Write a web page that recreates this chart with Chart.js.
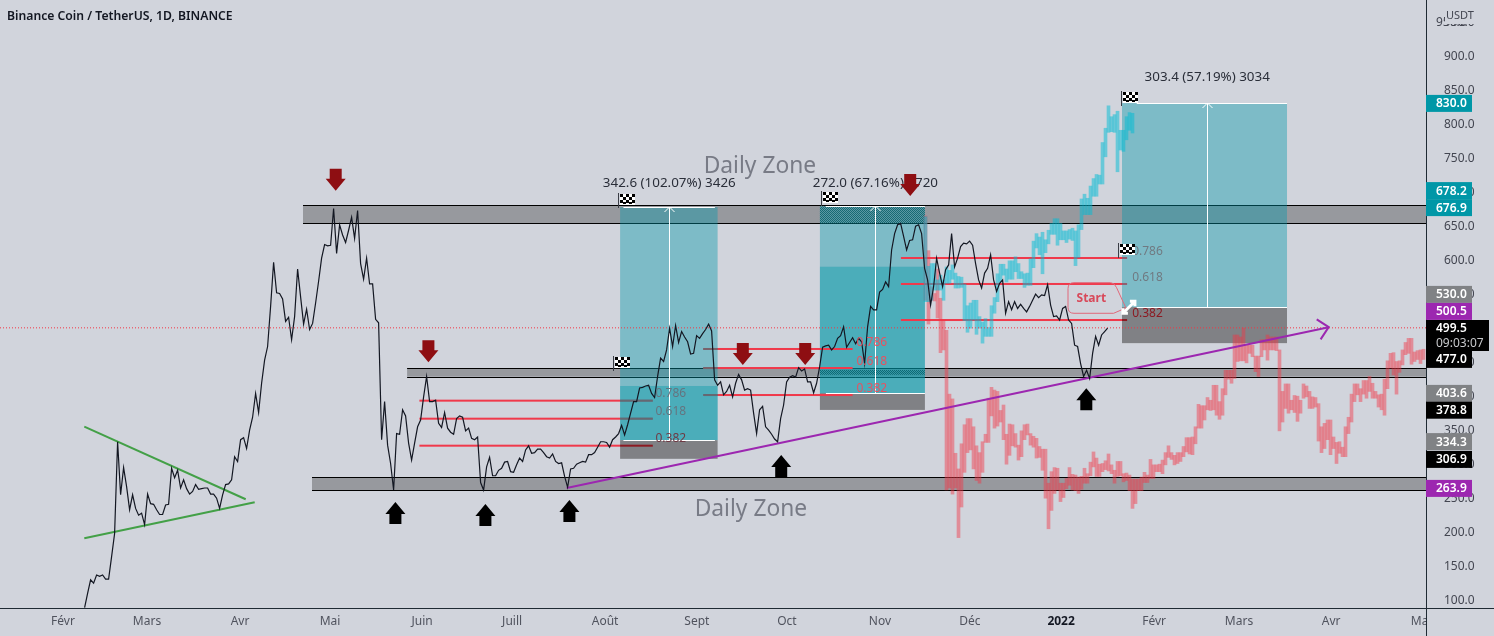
<!DOCTYPE html>
<html>
<head>
<meta charset="utf-8">
<title>Binance Coin / TetherUS</title>
<style>
  html, body { margin: 0; padding: 0; background: #d1d4dc; overflow: hidden; }
  canvas { display: block; }
</style>
<script src="https://cdn.jsdelivr.net/npm/chart.js@4/dist/chart.umd.js"></script>
</head>
<body>
<canvas id="chart" width="1494" height="636"></canvas>
<script>
// x unit = one daily bar (3px), 0 = first "Févr" label
const monthTicks = [0, 28, 59, 89, 119.7, 149.7, 180.7, 211.3, 241.3, 272.3, 302.3, 332.7, 363.7, 392, 422.7, 452.7];
const monthLabels = ['Févr', 'Mars', 'Avr', 'Mai', 'Juin', 'Juill', 'Août', 'Sept', 'Oct', 'Nov', 'Déc', '2022', 'Févr', 'Mars', 'Avr', 'Mai'];
const priceTicks = [100, 150, 200, 250, 300, 350, 400, 450, 500, 550, 600, 650, 700, 750, 800, 850, 900, 950];

const blackFirstBar = 7.2;
const blackPrices = [
  88, 109, 129, 124, 136, 134, 136, 130, 130, 163, 197, 332, 254, 294, 266, 232, 254, 234, 224, 227,
  210, 255, 241, 240, 232, 225, 225, 239, 240, 293, 279, 290, 264, 276, 263, 255, 259, 269, 262, 263,
  264, 264, 255, 255, 249, 234, 254, 269, 270, 276, 310, 303, 335, 338, 322, 349, 368, 403, 375, 418,
  452, 472, 531, 596, 551, 550, 542, 509, 515, 482, 516, 586, 545, 505, 527, 497, 506, 536, 568,
  602, 622, 620, 621, 675, 609, 651, 636, 625, 643, 662, 631, 672, 594, 571, 602, 564, 564, 512, 507,
  335, 391, 327, 300, 261, 344, 343, 379, 370, 330, 305, 330, 354, 364, 398, 428, 391, 391, 393, 359,
  353, 375, 352, 346, 343, 366, 370, 368, 348, 352, 337, 335, 339, 272, 261, 295, 309, 282, 282, 290,
  293, 302, 303, 288, 287, 298, 308, 303, 320, 326, 315, 316, 321, 321, 316, 310, 308, 314, 303, 300,
  301, 281, 265, 292, 293, 299, 301, 303, 302, 313, 313, 316, 324, 332, 332, 331, 324, 335, 339, 344,
  356, 342, 357, 374, 391, 391, 411, 412, 414, 415, 403, 397, 428, 455, 450, 467, 499, 472, 503, 478,
  494, 486, 479, 461, 462, 488, 484, 491, 497, 505, 495, 423, 415, 420, 401, 406, 415, 398, 418, 431,
  423, 408, 410, 408, 374, 344, 379, 384, 354, 349, 343, 336, 332, 366, 386, 420, 427, 429, 427, 441,
  436, 439, 420, 420, 404, 418, 442, 471, 473, 474, 467, 472, 484, 488, 501, 471, 478, 485, 476, 484,
  479, 447, 501, 531, 526, 526, 552, 556, 567, 560, 614, 638, 651, 653, 634, 614, 628, 629, 649, 651,
  638, 587, 570, 533, 560, 602, 580, 560, 585, 592, 638, 589, 602, 619, 624, 623, 627, 621, 594, 570,
  558, 580, 587, 607, 570, 553, 565, 570, 521, 538, 526, 538, 528, 534, 528, 523, 531, 540, 549, 544,
  548, 547, 563, 533, 516, 517, 511, 528, 531, 511, 506, 474, 472, 447, 428, 437, 425, 462, 487, 474,
  489, 494, 499
];

const barsFirstBar = 287.5;
const cyanHigh = [
  663, 590, 594, 594, 570, 577, 570, 589, 584, 592, 580, 575, 574, 564, 532, 536, 540, 540, 516, 508,
  513, 500, 532, 544, 579, 593, 593, 586, 598, 598, 604, 594, 582, 579, 580, 601, 627, 638, 633, 640,
  629, 643, 653, 660, 660, 653, 642, 642, 644, 646, 642, 651, 689, 696, 690, 708, 719, 725, 724, 772,
  793, 826, 810, 813, 818, 790, 790, 810, 816, 815
];
const cyanLow = [
  538, 538, 540, 555, 555, 555, 540, 565, 565, 571, 558, 558, 559, 510, 493, 499, 511, 490, 499, 477,
  487, 487, 487, 521, 538, 567, 577, 567, 571, 571, 582, 572, 572, 559, 562, 562, 588, 617, 607, 579,
  610, 623, 637, 637, 621, 629, 629, 625, 630, 628, 591, 603, 644, 666, 666, 666, 693, 693, 711, 711,
  751, 787, 788, 787, 729, 761, 759, 776, 790, 786
];

const redHigh = [
  664, 613, 560, 550, 586, 543, 511, 496, 402, 395, 315, 292, 329, 357, 366, 366, 354, 326, 316, 332,
  343, 396, 412, 408, 406, 378, 386, 343, 358, 357, 344, 327, 348, 357, 358, 344, 340, 337, 325, 321,
  321, 271, 288, 294, 293, 271, 271, 278, 294, 284, 283, 280, 281, 293, 285, 302, 317, 308, 299, 300,
  304, 314, 298, 290, 303, 303, 285, 286, 283, 277, 277, 277, 280, 287, 283, 306, 298, 298, 299, 305,
  316, 326, 316, 312, 316, 316, 325, 338, 338, 339, 354, 387, 385, 385, 397, 393, 415, 415, 391, 410,
  437, 437, 437, 489, 489, 486, 499, 474, 474, 474, 458, 458, 482, 482, 489, 486, 486, 486, 467, 406,
  417, 417, 393, 400, 399, 393, 417, 414, 406, 398, 397, 388, 354, 359, 364, 364, 339, 331, 332, 324,
  354, 368, 402, 417, 417, 410, 422, 422, 428, 418, 406, 401, 402, 424, 451, 462, 463, 450, 451, 467,
  478, 484, 484, 464, 466, 467, 468
];
const redLow = [
  540, 505, 540, 539, 514, 463, 467, 261, 264, 255, 264, 191, 236, 287, 316, 320, 292, 275, 271, 287,
  331, 331, 370, 352, 355, 361, 335, 299, 312, 326, 324, 305, 310, 335, 342, 327, 324, 308, 309, 290,
  249, 204, 231, 256, 261, 244, 250, 263, 268, 261, 260, 256, 262, 271, 271, 282, 295, 281, 281, 288,
  291, 289, 285, 271, 281, 282, 273, 275, 260, 234, 241, 260, 260, 272, 272, 278, 278, 288, 288, 285,
  298, 309, 306, 298, 300, 303, 310, 317, 314, 313, 329, 352, 352, 364, 379, 378, 379, 371, 365, 371,
  401, 424, 418, 425, 450, 451, 451, 448, 462, 457, 435, 428, 457, 467, 452, 467, 467, 466, 348, 361,
  381, 374, 379, 375, 362, 374, 396, 398, 381, 381, 383, 333, 316, 322, 335, 313, 322, 300, 315, 310,
  310, 344, 361, 391, 401, 391, 402, 396, 406, 396, 396, 383, 379, 371, 410, 440, 430, 402, 434, 445,
  460, 462, 446, 450, 453, 447, 453
];

// last price and the drawing tools, in bar / price units
const lastPrice = 499.5;
const trendPurple = [[167.9, 263.9], [421.9, 500.5]];
const trendHead = [[417.9, 512], [421.9, 500.5], [419.2, 482.6]];
const greenTop = [[7.1, 354.1], [60.9, 247.4]];
const greenBottom = [[7.1, 190], [63.9, 243]];

const zones = [
  { from: 80, top: 679.7, bottom: 653.2 },
  { from: 114.7, top: 440, bottom: 427.6 },
  { from: 83, top: 279.7, bottom: 260.6 }
];
const boxes = [
  { from: 185.7, to: 218.2, mid: 202.1, lineFrom: 186.8, lineTo: 217.3, top: 676.9, entry: 334.3, stop: 306.9, second: 414, label: '342.6 (102.07%) 3426', labelPrice: 714 },
  { from: 252.3, to: 287.3, mid: 270.8, lineFrom: 254.3, lineTo: 287.3, top: 678.2, entry: 403.6, stop: 378.8, second: 589.4, label: '272.0 (67.16%) 2720', labelPrice: 714 },
  { from: 353, to: 408, mid: 381.4, lineFrom: 357.9, lineTo: 408, top: 830, entry: 530, stop: 477, label: '303.4 (57.19%) 3034', labelPrice: 870 }
];
const fibLines = [
  { from: 279.3, to: 354.7, prices: [602.2, 564, 511] },
  { from: 213.4, to: 263.2, prices: [468.4, 440.4, 400.7] },
  { from: 118.8, to: 196.6, prices: [392.4, 365.9, 326.2] }
];
const fibNames = ['0.786', '0.618', '0.382'];
const fibLabels = [
  { bar: 202.6, prices: [403.7, 377.2, 337.5], colors: ['#64747f', '#64747f', '#6d3a44'] },
  { bar: 269.6, prices: [479.1, 451.2, 412], colors: ['#e8505f', '#e8505f', '#e8505f'] },
  { bar: 361.5, prices: [612.5, 574.3, 521.3], colors: ['#6f7a82', '#6f7a82', '#8c1a22'] }
];
const downArrows = [[90.9, 701.2], [121.8, 448.8], [226.6, 444.9], [247.4, 444.9], [282.4, 693.4]];
const upArrows = [[110.8, 243.4], [140.8, 240.4], [168.8, 246.3], [239.4, 312.5], [341.1, 410.6]];
const flags = [[185, 677], [183.2, 438], [252.8, 680], [352.6, 827], [351.5, 603.5]];

const priceTags = [
  { text: '830.0', color: '#0097a7', y: 103.4 },
  { text: '678.2', color: '#0097a7', y: 190.6 },
  { text: '676.9', color: '#0097a7', y: 207.6 },
  { text: '530.0', color: '#808285', y: 294.4 },
  { text: '500.5', color: '#9c27b0', y: 311.4 },
  { text: '477.0', color: '#000000', y: 359.4 },
  { text: '403.6', color: '#808285', y: 393.4 },
  { text: '378.8', color: '#000000', y: 410.2 },
  { text: '334.3', color: '#808285', y: 441.6 },
  { text: '306.9', color: '#000000', y: 459.4 },
  { text: '263.9', color: '#9c27b0', y: 488.4 }
];

const BG = '#d1d4dc';
const TEAL = 'rgba(0,151,167,0.4)';
const RED = '#f0394b';
const FONT = '"Noto Sans"';

Chart.defaults.font.family = FONT;

function toPoints(pairs) {
  return pairs.map(p => ({ x: p[0], y: p[1] }));
}

function lineSet(points, color, width, order) {
  return { type: 'line', data: points, borderColor: color, borderWidth: width, pointRadius: 0, tension: 0, order: order };
}

function blockArrow(ctx, x, tip, dir, color) {
  const base = tip - dir * 12;
  const end = tip - dir * 22;
  ctx.fillStyle = color;
  ctx.beginPath();
  ctx.moveTo(x, tip);
  ctx.lineTo(x - 10, base);
  ctx.lineTo(x - 6, base);
  ctx.lineTo(x - 6, end);
  ctx.lineTo(x + 6, end);
  ctx.lineTo(x + 6, base);
  ctx.lineTo(x + 10, base);
  ctx.closePath();
  ctx.fill();
}

function drawFlag(ctx, x, y) {
  ctx.fillStyle = '#3a3d45';
  ctx.fillRect(x, y - 14, 1, 15);
  ctx.fillStyle = '#ffffff';
  ctx.fillRect(x + 2, y - 13, 15, 11);
  ctx.fillStyle = '#000000';
  for (let i = 0; i < 5; i++) {
    for (let j = 0; j < 4; j++) {
      if ((i + j) % 2 === 0) ctx.fillRect(x + 2 + i * 3, y - 13 + j * 3 - (j === 3 ? 1 : 0), 3, j === 3 ? 2 : 3);
    }
  }
}

function ditherPattern(ctx) {
  const c = document.createElement('canvas');
  c.width = 2;
  c.height = 2;
  const p = c.getContext('2d');
  p.fillStyle = 'rgba(0,90,100,0.75)';
  p.fillRect(0, 0, 1, 1);
  p.fillRect(1, 1, 1, 1);
  return ctx.createPattern(c, 'repeat');
}

const overlays = {
  id: 'overlays',
  beforeDatasetsDraw(chart) {
    const { ctx, chartArea, scales: { x, y } } = chart;
    const px = v => x.getPixelForValue(v);
    const py = v => y.getPixelForValue(v);

    // daily zones
    zones.forEach(z => {
      ctx.fillStyle = 'rgba(0,0,0,0.28)';
      ctx.fillRect(px(z.from), py(z.top), chartArea.right - px(z.from), py(z.bottom) - py(z.top));
      ctx.fillStyle = '#000000';
      ctx.fillRect(px(z.from), Math.round(py(z.top)), chartArea.right - px(z.from), 1);
      ctx.fillRect(px(z.from), Math.round(py(z.bottom)), chartArea.right - px(z.from), 1);
    });

    const fillBox = (b, color) => {
      ctx.fillStyle = color;
      ctx.fillRect(px(b.from), py(b.top), px(b.to) - px(b.from), py(b.entry) - py(b.top));
      if (b.second) ctx.fillRect(px(b.from), py(b.second), px(b.to) - px(b.from), py(b.entry) - py(b.second));
      ctx.fillStyle = '#808185';
      ctx.fillRect(px(b.from), py(b.entry), px(b.to) - px(b.from), py(b.stop) - py(b.entry));
    };

    fillBox(boxes[1], TEAL);
    const dither = ditherPattern(ctx);
    ctx.fillStyle = dither;
    ctx.fillRect(px(boxes[1].from), py(678.2), px(boxes[1].to) - px(boxes[1].from), py(653.2) - py(678.2));
    ctx.fillRect(px(boxes[1].from), py(437.5), px(boxes[1].to) - px(boxes[1].from), py(430.5) - py(437.5));

    // fib lines run under the first and last box
    fibLines.forEach(f => {
      f.prices.forEach(p => {
        ctx.fillStyle = RED;
        ctx.fillRect(px(f.from), py(p) - 1, px(f.to) - px(f.from), 2);
      });
    });

    fillBox(boxes[0], TEAL);
    fillBox(boxes[2], TEAL);

    // dark remains of the lowest fib lines where the stop box covers them
    ctx.fillStyle = '#8c1a22';
    ctx.fillRect(px(boxes[0].from), py(fibLines[2].prices[2]) - 1, px(fibLines[2].to) - px(boxes[0].from), 2);
    ctx.fillRect(px(boxes[2].from), py(fibLines[0].prices[2]) - 1, px(fibLines[0].to) - px(boxes[2].from), 2);

    // grey remains of the fib lines inside the first box
    ctx.fillStyle = 'rgba(110,100,105,0.7)';
    fibLines[2].prices.slice(0, 2).forEach(p => {
      ctx.fillRect(px(boxes[0].from), py(p) - 1, px(fibLines[2].to) - px(boxes[0].from), 2);
    });
    fibLines[1].prices.forEach(p => {
      ctx.fillRect(px(fibLines[1].from), py(p) - 1, px(boxes[0].to) - px(fibLines[1].from), 2);
    });

    // white measure lines
    ctx.fillStyle = '#ffffff';
    ctx.strokeStyle = '#ffffff';
    ctx.lineWidth = 1;
    boxes.forEach(b => {
      ctx.fillRect(px(b.lineFrom), Math.round(py(b.top)), px(b.lineTo) - px(b.lineFrom), 1);
      ctx.fillRect(px(b.lineFrom), Math.round(py(b.entry)), px(b.lineTo) - px(b.lineFrom), 1);
      ctx.fillRect(Math.round(px(b.mid)), py(b.top), 1, py(b.entry) - py(b.top));
      const mx = Math.round(px(b.mid)) + 0.5;
      const ty = Math.round(py(b.top));
      ctx.beginPath();
      ctx.moveTo(mx - 5, ty + 5);
      ctx.lineTo(mx, ty);
      ctx.lineTo(mx + 5, ty + 5);
      ctx.stroke();
    });
  },
  afterDatasetsDraw(chart) {
    const { ctx, scales: { x, y } } = chart;
    const px = v => x.getPixelForValue(v);
    const py = v => y.getPixelForValue(v);

    ctx.textBaseline = 'middle';
    ctx.textAlign = 'center';

    // box captions
    ctx.font = '13.4px ' + FONT;
    ctx.fillStyle = '#2a2e39';
    boxes.forEach(b => ctx.fillText(b.label, px(b.mid), py(b.labelPrice) + 1));

    // fib numbers
    ctx.font = '12px ' + FONT;
    fibLabels.forEach(f => {
      f.prices.forEach((p, i) => {
        ctx.fillStyle = f.colors[i];
        ctx.fillText(fibNames[i], px(f.bar), py(p) + 1);
      });
    });

    // zone titles
    ctx.font = '22.8px ' + FONT;
    ctx.fillStyle = '#787b86';
    ctx.fillText('Daily Zone', px(232.3), py(740.4) + 2);
    ctx.fillText('Daily Zone', px(229.3), py(234.6) + 2);

    downArrows.forEach(a => blockArrow(ctx, px(a[0]), py(a[1]), 1, '#8e0e12'));
    upArrows.forEach(a => blockArrow(ctx, px(a[0]), py(a[1]), -1, '#000000'));
    flags.forEach(f => drawFlag(ctx, Math.round(px(f[0])), Math.round(py(f[1]))));

    // Start callout
    const left = px(335), right = px(351.2), top = py(565.9), bottom = py(520.9);
    ctx.strokeStyle = '#e0687a';
    ctx.lineWidth = 1;
    ctx.beginPath();
    ctx.moveTo(left + 6, top);
    ctx.lineTo(right - 6, top);
    ctx.quadraticCurveTo(right - 2, top, right, top + 5);
    ctx.lineTo(px(354.3), py(528.7));
    ctx.lineTo(right - 3, bottom);
    ctx.lineTo(left + 6, bottom);
    ctx.quadraticCurveTo(left, bottom, left, bottom - 6);
    ctx.lineTo(left, top + 6);
    ctx.quadraticCurveTo(left, top, left + 6, top);
    ctx.stroke();
    ctx.font = 'bold 12px ' + FONT;
    ctx.fillStyle = '#d8495a';
    ctx.fillText('Start', (left + right) / 2 - 1, (top + bottom) / 2 + 1);

    // white handle of the long position tool
    const hx = px(355.3), hy = py(529.8);
    ctx.strokeStyle = '#ffffff';
    ctx.lineWidth = 3;
    ctx.beginPath();
    ctx.moveTo(hx - 6, hy + 6);
    ctx.lineTo(hx + 6, hy - 6);
    ctx.moveTo(hx + 1, hy - 6);
    ctx.lineTo(hx + 6, hy - 6);
    ctx.lineTo(hx + 6, hy - 1);
    ctx.moveTo(hx - 6, hy + 1);
    ctx.lineTo(hx - 6, hy + 6);
    ctx.lineTo(hx - 1, hy + 6);
    ctx.stroke();
  },
  afterDraw(chart) {
    const { ctx, chartArea, scales: { y } } = chart;
    const { right, bottom } = chartArea;

    // hide what spills into the price axis corner
    ctx.fillStyle = BG;
    ctx.fillRect(right, bottom, chart.width - right, chart.height - bottom);

    ctx.fillStyle = '#1f2a33';
    ctx.fillRect(Math.round(right), 0, 1, chart.height);
    ctx.fillRect(0, Math.round(bottom), chart.width, 1);

    // title
    ctx.textAlign = 'left';
    ctx.textBaseline = 'middle';
    ctx.font = '600 12.2px ' + FONT;
    ctx.fillStyle = '#131722';
    ctx.fillText('Binance Coin / TetherUS, 1D, BINANCE', 7, 17);

    // top tick sits half under the currency label
    const topTick = priceTicks[priceTicks.length - 1];
    ctx.font = '12px ' + FONT;
    ctx.fillStyle = '#434651';
    ctx.fillText(topTick.toFixed(1), 1436, y.getPixelForValue(topTick) + 1);
    ctx.fillStyle = BG;
    ctx.fillRect(1445, 0, 40, 24);
    ctx.font = '11px ' + FONT;
    ctx.fillStyle = '#434651';
    ctx.fillText('USDT', 1446, 16);

    // price tags
    ctx.font = '600 12px ' + FONT;
    priceTags.forEach(t => {
      ctx.fillStyle = t.color;
      ctx.fillRect(right, t.y - 8.5, 46, 17);
      ctx.fillStyle = '#ffffff';
      ctx.fillText(t.text, 1436, t.y + 0.5);
    });
    ctx.fillStyle = '#000000';
    ctx.fillRect(right, 320, 63, 31);
    ctx.fillStyle = '#ffffff';
    ctx.fillText(lastPrice.toFixed(1), 1436, 329);
    ctx.font = '12px ' + FONT;
    ctx.fillStyle = '#c8c9cc';
    ctx.fillText('09:03:07', 1436, 343.5);
  }
};

new Chart(document.getElementById('chart'), {
  type: 'bar',
  data: {
    datasets: [
      lineSet(blackPrices.map((v, i) => ({ x: blackFirstBar + i, y: v })), '#131722', 1.2, 1),
      lineSet(toPoints(trendPurple), '#9c27b0', 2, 2),
      lineSet(toPoints(trendHead), '#9c27b0', 2, 2),
      lineSet(toPoints(greenTop), '#43a047', 2, 3),
      lineSet(toPoints(greenBottom), '#43a047', 2, 3),
      Object.assign(lineSet([{ x: -21, y: lastPrice }, { x: 454.33, y: lastPrice }], '#f23645', 1, 4), { borderDash: [1, 2] }),
      {
        data: cyanHigh.map((v, i) => ({ x: barsFirstBar + i, y: [cyanLow[i], v] })),
        backgroundColor: 'rgba(0,188,212,0.5)',
        barThickness: 3,
        grouped: false,
        order: 5
      },
      {
        data: redHigh.map((v, i) => ({ x: barsFirstBar + i, y: [redLow[i], v] })),
        backgroundColor: 'rgba(242,54,69,0.45)',
        barThickness: 3,
        grouped: false,
        order: 6
      }
    ]
  },
  options: {
    responsive: false,
    animation: false,
    layout: { padding: 0 },
    plugins: { legend: { display: false }, tooltip: { enabled: false } },
    scales: {
      x: {
        type: 'linear',
        offset: false,
        min: -21,
        max: 454.33,
        grid: { display: false },
        border: { display: false },
        ticks: {
          autoSkip: false,
          maxRotation: 0,
          padding: -2,
          color: ctx => monthLabels[ctx.index] === '2022' ? '#131722' : '#50535e',
          font: ctx => monthLabels[ctx.index] === '2022' ? { size: 12, weight: 'bold' } : { size: 12 },
          callback: (value, index) => monthLabels[index]
        },
        afterBuildTicks: s => { s.ticks = monthTicks.map(v => ({ value: v })); },
        afterFit: s => { s.height = 28; s.paddingLeft = 0; s.paddingRight = 0; }
      },
      y: {
        position: 'right',
        min: 87.5,
        max: 981.6,
        grid: { display: false },
        border: { display: false },
        ticks: {
          autoSkip: false,
          padding: 10,
          labelOffset: 1,
          color: '#434651',
          font: { size: 12 },
          callback: value => value.toFixed(1)
        },
        afterBuildTicks: s => { s.ticks = priceTicks.map(v => ({ value: v })); },
        afterFit: s => { s.width = 68; s.paddingTop = 0; s.paddingBottom = 0; }
      }
    }
  },
  plugins: [overlays]
});
</script>
</body>
</html>
